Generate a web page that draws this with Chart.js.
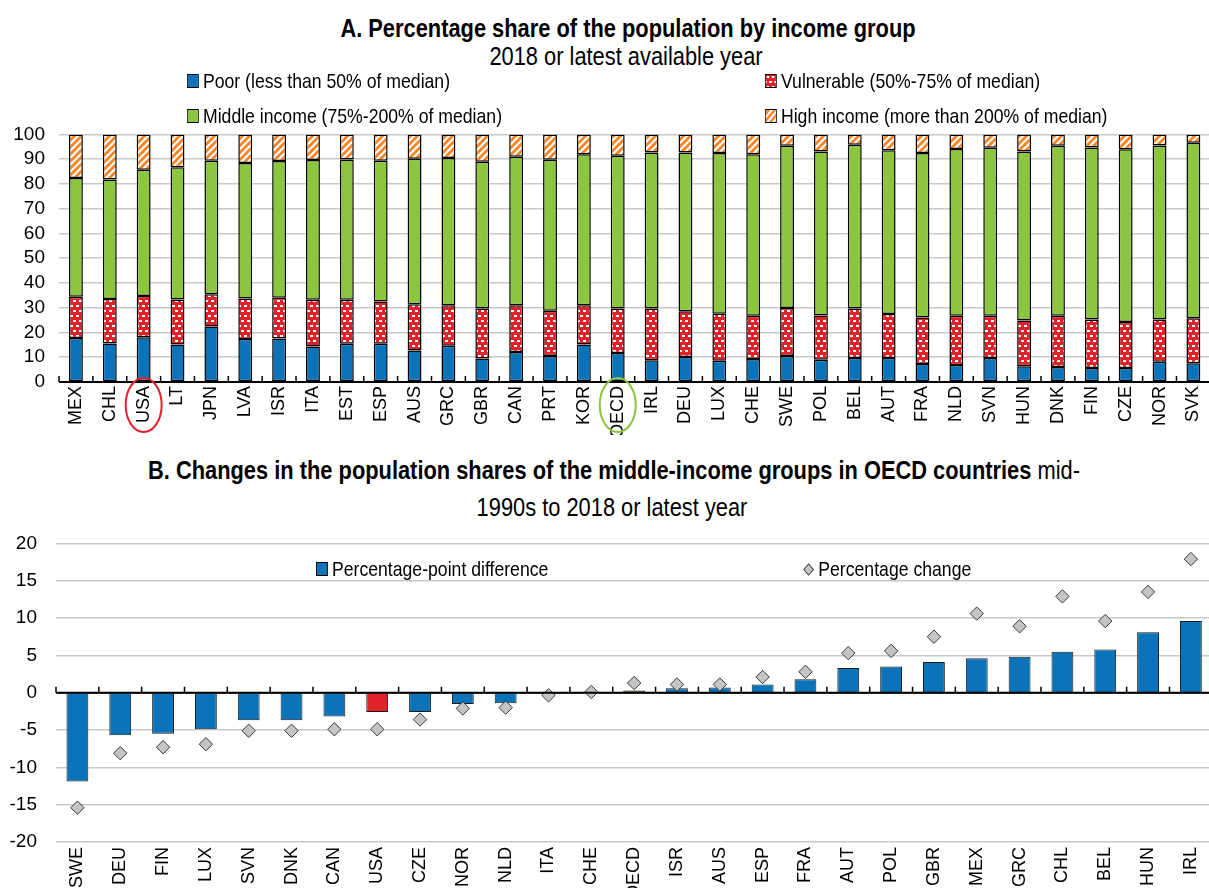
<!DOCTYPE html>
<html>
<head>
<meta charset="utf-8">
<script src="https://cdn.jsdelivr.net/npm/chart.js@4.4.1/dist/chart.umd.min.js"></script>
<style>
  html, body { margin: 0; padding: 0; background: #fff; overflow: hidden; }
  #wrap { position: relative; width: 1209px; height: 888px; overflow: hidden; }
  .txt { position: absolute; font-family: "Liberation Sans", Arial, sans-serif; color: #000; white-space: nowrap; }
  .title { font-size: 26px; font-weight: bold; line-height: 28px; text-align: center; transform: scaleX(0.84); }
  .sub { font-size: 26px; line-height: 28px; text-align: center; transform: scaleX(0.84); }
  .leg { font-size: 21px; line-height: 16px; display: flex; align-items: center; height: 16px; transform: scaleX(0.84); transform-origin: 0 50%; }
  .sw { width: 12px; height: 12px; border: 1px solid #000; margin-right: 5px; display: inline-block; }
  canvas { position: absolute; left: 0; }
  .swc { position: static; border: 1px solid #000; margin-right: 5px; width: 12px; height: 12px; }
</style>
</head>
<body>
<div id="wrap">
  <div class="txt title" style="left:0; width:1256px; top:14px;">A. Percentage share of the population by income group</div>
  <div class="txt sub" style="left:0; width:1252px; top:42px;">2018 or latest available year</div>

  <div class="txt leg" style="left:187px; top:73px;"><canvas class="swc" id="swPoor" width="12" height="12"></canvas>Poor (less than 50% of median)</div>
  <div class="txt leg" style="left:765px; top:73px;"><canvas class="swc" id="swVul" width="12" height="12"></canvas>Vulnerable (50%-75% of median)</div>
  <div class="txt leg" style="left:187px; top:108px;"><canvas class="swc" id="swMid" width="12" height="12"></canvas>Middle income (75%-200% of median)</div>
  <div class="txt leg" style="left:765px; top:108px;"><canvas class="swc" id="swHigh" width="12" height="12"></canvas>High income (more than 200% of median)</div>

  <canvas id="chartA" width="1219" height="326" style="top:109px;"></canvas>

  <div class="txt title" style="left:0; width:1228px; top:456px;">B. Changes in the population shares of the middle-income groups in OECD countries <span style="font-weight:normal">mid-</span></div>
  <div class="txt sub" style="left:0; width:1224px; top:493px;">1990s to 2018 or latest year</div>

  <canvas id="chartB" width="1220" height="375" style="top:513px;"></canvas>

  <div class="txt leg" style="left:316px; top:561px;"><span class="sw" style="background:#0b73b9"></span>Percentage-point difference</div>
  <div class="txt leg" style="left:804px; top:561px;"><span style="display:inline-block;width:7px;height:7px;background:#c4c4c4;border:1px solid #3a3a3a;transform:rotate(45deg);margin:0 7px 0 1px"></span>Percentage change</div>
</div>

<script>
// Panel A: share of population by income group (%), sorted by middle-income share
const countriesA = ['MEX','CHL','USA','LT','JPN','LVA','ISR','ITA','EST','ESP','AUS','GRC','GBR','CAN','PRT','KOR','OECD','IRL','DEU','LUX','CHE','SWE','POL','BEL','AUT','FRA','NLD','SVN','HUN','DNK','FIN','CZE','NOR','SVK'];
const poorShare = [17.8,15.5,18.1,15.1,22.4,17.4,17.6,14.3,15.4,15.4,12.7,14.6,9.5,12.1,10.5,15.1,11.7,8.8,10.1,8.6,9.3,10.5,9.0,9.7,9.7,7.3,6.9,9.7,6.4,6.1,5.7,5.7,8.2,7.6];
const vulnerableShare = [16.6,18.0,16.6,18.2,13.0,16.3,16.4,18.9,17.8,17.1,18.7,16.4,20.2,18.9,18.3,15.9,18.0,20.9,18.5,19.0,17.5,19.4,17.9,20.0,17.8,18.8,19.9,17.1,18.4,20.7,19.5,18.5,17.0,18.1];
const middleShare = [48.0,48.3,51.0,53.4,54.0,54.7,55.3,56.5,56.7,56.9,58.8,59.5,59.3,60.0,61.0,61.0,61.7,63.0,64.1,64.9,65.2,65.5,66.2,66.1,66.1,66.4,67.3,67.8,68.3,68.6,69.5,69.8,70.3,70.9];
const highShare = [17.6,18.2,14.3,13.3,10.6,11.6,10.7,10.3,10.1,10.6,9.8,9.5,11.0,9.0,10.2,8.0,8.6,7.3,7.3,7.5,8.0,4.6,6.9,4.2,6.4,7.5,5.9,5.4,6.9,4.6,5.3,6.0,4.5,3.4];
const yTicksA = [0,10,20,30,40,50,60,70,80,90,100];

// Panel B: change in middle-income share, mid-1990s to 2018
const countriesB = ['SWE','DEU','FIN','LUX','SVN','DNK','CAN','USA','CZE','NOR','NLD','ITA','CHE','OECD','ISR','AUS','ESP','FRA','AUT','POL','GBR','MEX','GRC','CHL','BEL','HUN','IRL'];
const ppDiff = [-11.9,-5.7,-5.5,-4.9,-3.7,-3.7,-3.2,-2.6,-2.6,-1.5,-1.4,-0.15,0.05,0.3,0.6,0.7,1.1,1.8,3.3,3.5,4.1,4.6,4.8,5.5,5.8,8.1,9.6];
const pctChange = [-15.4,-8.1,-7.3,-6.9,-5.1,-5.1,-4.9,-4.9,-3.6,-2.1,-2.0,-0.35,0.1,1.3,1.1,1.1,2.1,2.8,5.3,5.6,7.5,10.6,8.9,12.9,9.6,13.5,17.9];
const yTicksB = [-20,-15,-10,-5,0,5,10,15,20];

const BLUE = '#0b73b9', GREEN = '#8cc63f', RED = '#e2222b', ORANGE = '#f3882a', OLIVE = '#4a5226';
const TICK_FONT = "'Liberation Sans', Arial, sans-serif";

function dotsPattern() {
  const c = document.createElement('canvas');
  c.width = 6; c.height = 10;
  const g = c.getContext('2d');
  g.fillStyle = RED; g.fillRect(0, 0, 6, 10);
  g.fillStyle = '#fff';
  g.fillRect(1, 1, 3, 2);
  g.fillRect(4, 6, 2, 2); g.fillRect(0, 6, 1, 2);
  return g.createPattern(c, 'repeat');
}

function stripePattern() {
  const c = document.createElement('canvas');
  c.width = 7; c.height = 7;
  const g = c.getContext('2d');
  g.fillStyle = ORANGE; g.fillRect(0, 0, 7, 7);
  g.strokeStyle = '#fff'; g.lineWidth = 2;
  g.beginPath();
  g.moveTo(-1, 8); g.lineTo(8, -1);
  g.moveTo(-1, 1); g.lineTo(1, -1);
  g.moveTo(6, 8); g.lineTo(8, 6);
  g.stroke();
  return g.createPattern(c, 'repeat');
}

const vulFill = dotsPattern();
const highFill = stripePattern();

function paintSwatch(id, fill) {
  const g = document.getElementById(id).getContext('2d');
  g.fillStyle = fill; g.fillRect(0, 0, 12, 12);
}
paintSwatch('swPoor', BLUE);
paintSwatch('swVul', vulFill);
paintSwatch('swMid', GREEN);
paintSwatch('swHigh', highFill);

// short tick marks between categories, pointing up from the zero line
const boundaryTicks = {
  id: 'boundaryTicks',
  afterDatasetsDraw(chart, args, opts) {
    const ctx = chart.ctx, x = chart.scales.x, y = chart.scales.y;
    const y0 = y.getPixelForValue(0);
    ctx.save();
    ctx.strokeStyle = '#000';
    ctx.lineWidth = 2;
    ctx.beginPath(); ctx.moveTo(x.left, y0); ctx.lineTo(x.right, y0); ctx.stroke();
    ctx.lineWidth = 1.5;
    for (let i = 0; i <= x.ticks.length; i++) {
      const px = x.getPixelForValue(i - 0.5);
      ctx.beginPath(); ctx.moveTo(px, y0); ctx.lineTo(px, y0 - opts.len); ctx.stroke();
    }
    ctx.restore();
  }
};

const labelCircles = {
  id: 'labelCircles',
  afterDraw(chart, args, opts) {
    const ctx = chart.ctx, x = chart.scales.x;
    ctx.save();
    ctx.lineWidth = 2;
    opts.items.forEach((it) => {
      const cx = x.getPixelForValue(countriesA.indexOf(it.label));
      ctx.strokeStyle = it.color;
      ctx.beginPath();
      ctx.ellipse(cx, x.top + 23, 18, 27, 0, 0, Math.PI * 2);
      ctx.stroke();
    });
    ctx.restore();
  }
};

const gridColor = (c) => (c.tick.value === 0 ? '#000' : '#c9c9c9');

new Chart(document.getElementById('chartA'), {
  type: 'bar',
  data: {
    labels: countriesA,
    datasets: [
      { label: 'Poor (less than 50% of median)', data: poorShare, backgroundColor: BLUE },
      { label: 'Vulnerable (50%-75% of median)', data: vulnerableShare, backgroundColor: vulFill },
      { label: 'Middle income (75%-200% of median)', data: middleShare, backgroundColor: GREEN },
      { label: 'High income (more than 200% of median)', data: highShare, backgroundColor: highFill }
    ]
  },
  options: {
    responsive: false,
    animation: false,
    layout: { padding: { top: 3, left: 0, right: 0, bottom: 0 } },
    datasets: { bar: { barPercentage: 0.41, categoryPercentage: 1, borderColor: '#000', borderWidth: 1.5, borderSkipped: false } },
    plugins: {
      legend: { display: false },
      tooltip: { enabled: false },
      boundaryTicks: { len: 6 },
      labelCircles: { items: [{ label: 'USA', color: RED }, { label: 'OECD', color: GREEN }] }
    },
    scales: {
      x: {
        stacked: true,
        grid: { display: false, drawTicks: false },
        border: { display: false },
        ticks: { color: '#000', font: { family: TICK_FONT, size: 18 }, minRotation: 90, maxRotation: 90, padding: 4, autoSkip: false },
        afterFit: (s) => { s.height = 53; }
      },
      y: {
        stacked: true,
        min: 0, max: 100,
        afterBuildTicks: (s) => { s.ticks = yTicksA.map((v) => ({ value: v })); },
        ticks: { color: '#000', font: { family: TICK_FONT, size: 19 }, padding: 14, autoSkip: false },
        grid: { color: gridColor, lineWidth: 1.5, drawTicks: false },
        border: { display: false },
        afterFit: (s) => { s.width = 59; }
      }
    }
  },
  plugins: [boundaryTicks, labelCircles]
});

new Chart(document.getElementById('chartB'), {
  type: 'bar',
  data: {
    labels: countriesB,
    datasets: [
      {
        type: 'line', label: 'Percentage change', data: pctChange, showLine: false,
        pointStyle: 'rectRot', pointRadius: 6.7, pointBackgroundColor: '#c4c4c4',
        pointBorderColor: '#3a3a3a', pointBorderWidth: 1, order: 0
      },
      {
        type: 'bar', label: 'Percentage-point difference', data: ppDiff,
        backgroundColor: countriesB.map((c) => (c === 'USA' ? RED : c === 'OECD' ? OLIVE : BLUE)),
        borderColor: '#1a1a1a', borderWidth: 1, barPercentage: 0.51, categoryPercentage: 1, order: 1
      }
    ]
  },
  options: {
    responsive: false,
    animation: false,
    layout: { padding: { top: 0, left: 0, right: 0, bottom: 0 } },
    plugins: {
      legend: { display: false },
      tooltip: { enabled: false },
      boundaryTicks: { len: 6 }
    },
    scales: {
      x: {
        grid: { display: false, drawTicks: false },
        border: { display: false },
        ticks: { color: '#000', font: { family: TICK_FONT, size: 18 }, minRotation: 90, maxRotation: 90, padding: 5, autoSkip: false },
        afterFit: (s) => { s.height = 46; }
      },
      y: {
        min: -20, max: 20,
        afterBuildTicks: (s) => { s.ticks = yTicksB.map((v) => ({ value: v })); },
        ticks: { color: '#000', font: { family: TICK_FONT, size: 19 }, padding: 19, autoSkip: false },
        grid: { color: gridColor, lineWidth: 1.5, drawTicks: false },
        border: { display: false },
        afterFit: (s) => { s.width = 56; }
      }
    }
  },
  plugins: [boundaryTicks]
});
</script>
</body>
</html>
